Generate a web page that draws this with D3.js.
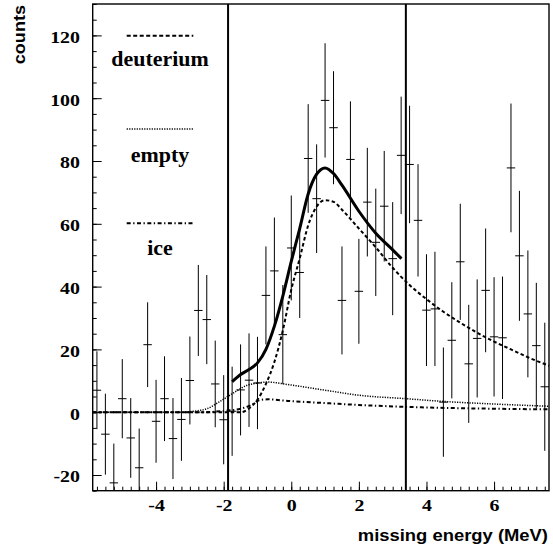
<!DOCTYPE html>
<html>
<head>
<meta charset="UTF-8">
<script src="https://cdn.jsdelivr.net/npm/d3@7"></script>
<style>
  body { margin: 0; background: #fff; }
  svg { display: block; }
</style>
</head>
<body>
<svg width="553" height="546"></svg>
<script>
var energy = [-5.75, -5.5, -5.25, -5.0, -4.75, -4.5, -4.25, -4.0, -3.75, -3.5, -3.25, -3.0, -2.75, -2.5,
  -2.25, -2.0, -1.75, -1.5, -1.25, -1.0, -0.75, -0.5, -0.25, 0.0, 0.25, 0.5, 0.75, 1.0, 1.25, 1.5,
  1.75, 2.0, 2.25, 2.5, 2.75, 3.0, 3.25, 3.5, 3.75, 4.0, 4.25, 4.5, 4.75, 5.0, 5.25, 5.5, 5.75, 6.0,
  6.25, 6.5, 6.75, 7.0, 7.25, 7.5];
var counts = [7, -7, -22.5, 4.3, -8.2, -17.7, 21.5, -2.9, 4.3, -8.4, -2.3, 10.1, 32.4, 29.5,
  9.0, -2.4, 0.3, 7.1, 10.2, 9.3, 37.2, 45, 24.7, 52.3, 44.5, 80.8, 68, 99.3, 90.6, 35.6,
  80.5, 38.5, 66.9, 54.1, 65.6, 48.9, 81.8, 78.9, 61.1, 32.5, 32.9, 3.2, 22.9, 47.9, 15.4, 23.5, 38.8, 24,
  23.7, 77.8, 49.8, 31.3, 21.2, 8.1];
var errors = [12.4, 12.9, 12.5, 12.6, 12.7, 12.5, 13.5, 13.2, 13.5, 12.9, 13.2, 14, 14.5, 14.2,
  13.8, 14.2, 14.2, 14.5, 14.9, 14.7, 15.6, 17, 15.8, 16.7, 14.5, 17.3, 17.3, 18.2, 18, 17.2,
  18.5, 16.7, 17.3, 17.1, 17.6, 18, 18.7, 18.7, 17.9, 17.8, 18.2, 17.4, 18.5, 18.5, 18.8, 18.8, 19.7, 19,
  19.5, 20.5, 20.7, 20.2, 20, 20.4];

// fitted curves
var totalX = [-1.75, -1.5, -1.25, -1.0, -0.75, -0.5, -0.25, 0.0, 0.25, 0.5, 0.75, 1.0, 1.25, 1.5, 2.0, 2.5, 3.0, 3.26];
var totalY = [9.7, 12, 13.6, 15.7, 20, 27.4, 37, 48, 58.5, 69.5, 75.8, 77.8, 76, 72.3, 64, 57, 51.7, 48.9];

var deutX = [-5.875, -1.5, -1.25, -1.0, -0.75, -0.5, -0.25, 0.0, 0.25, 0.5, 0.75, 1.0, 1.25, 1.5, 2.0, 2.5, 3.0, 3.5, 4.0, 4.5, 5.0, 5.5, 6.0, 6.5, 7.0, 7.625];
var deutY = [0, 0, 1.2, 4, 9, 16, 26, 39, 49, 59.5, 65.5, 67.5, 67, 64.5, 58.5, 52.5, 46, 40.5, 36, 32, 28.5, 25.3, 22.5, 20, 17.5, 14.8];

var emptyX = [-5.875, -3.2, -3.0, -2.5, -2.1, -1.7, -1.3, -1.0, -0.7, -0.1, 1.0, 2.0, 3.4, 4.4, 6.0, 7.625];
var emptyY = [0, 0, 0.2, 1.1, 3.5, 6.2, 8.6, 9.3, 9.6, 8.8, 7.0, 5.4, 4.3, 3.5, 2.6, 1.9];

var iceX = [-5.875, -2.6, -2.0, -1.5, -1.2, -0.95, -0.7, -0.1, 1.0, 2.0, 3.4, 4.4, 6.0, 7.625];
var iceY = [0, 0, 0.4, 1.1, 2.2, 3.8, 4.1, 3.6, 2.9, 2.3, 1.7, 1.4, 1.1, 0.9];

var cutLines = [-1.87, 3.39];
var xMajor = [-4, -2, 0, 2, 4, 6];
var yMajor = [-20, 0, 20, 40, 60, 80, 100, 120];

var plotL = 92.7, plotR = 549, plotT = 4, plotB = 490.7;
var svg = d3.select("svg");

var x = d3.scaleLinear().domain([-5.875, 7.625]).range([plotL, plotR]);
var y = d3.scaleLinear().domain([-25, 130]).range([plotB, plotT]);

var xMinor = d3.range(-5.75, 7.626, 0.25);
var yMinor = d3.range(-25, 130.1, 5);

// minor ticks
svg.append("g")
    .attr("transform", "translate(0," + plotB + ")")
    .call(d3.axisBottom(x).tickValues(xMinor).tickSize(-4).tickFormat(""))
    .call(function (g) { g.select(".domain").remove(); });
svg.append("g")
    .attr("transform", "translate(" + plotL + ",0)")
    .call(d3.axisLeft(y).tickValues(yMinor).tickSize(-4).tickFormat(""))
    .call(function (g) { g.select(".domain").remove(); });

// major ticks + labels
var xAxis = svg.append("g")
    .attr("transform", "translate(0," + plotB + ")")
    .call(d3.axisBottom(x).tickValues(xMajor).tickSize(-9).tickFormat(function (d) { return String(d); }));
xAxis.select(".domain").remove();
xAxis.selectAll(".tick text")
    .attr("y", 20.3).attr("dy", 0)
    .attr("transform", "scale(1.17,1)");

var yAxis = svg.append("g")
    .attr("transform", "translate(" + plotL + ",0)")
    .call(d3.axisLeft(y).tickValues(yMajor).tickSize(-9).tickFormat(function (d) { return String(d); }));
yAxis.select(".domain").remove();
yAxis.selectAll(".tick text")
    .attr("x", -12.7 / 1.17).attr("y", 6.8).attr("dy", 0)
    .attr("transform", "scale(1.17,1)");

svg.selectAll(".tick text")
    .style("font-family", "'Liberation Serif', 'Times New Roman', serif")
    .style("font-weight", "bold")
    .style("font-size", "17px");
svg.selectAll(".tick line").attr("stroke", "#000").attr("stroke-width", 1);

// frame
svg.append("rect")
    .attr("x", plotL).attr("y", plotT)
    .attr("width", plotR - plotL).attr("height", plotB - plotT)
    .attr("fill", "none").attr("stroke", "#000").attr("stroke-width", 1.4);

// cut lines
svg.selectAll(".cut").data(cutLines).enter().append("line")
    .attr("x1", function (d) { return x(d); }).attr("x2", function (d) { return x(d); })
    .attr("y1", plotT).attr("y2", plotB)
    .attr("stroke", "#000").attr("stroke-width", 2);

// data with error bars
var pts = energy.map(function (e, i) { return { e: e, c: counts[i], s: errors[i] }; });
var bars = svg.append("g").attr("stroke", "#000").attr("stroke-width", 1);
bars.selectAll(".ev").data(pts).enter().append("line")
    .attr("x1", function (d) { return x(d.e); }).attr("x2", function (d) { return x(d.e); })
    .attr("y1", function (d) { return y(Math.min(d.c + d.s, 130)); })
    .attr("y2", function (d) { return y(Math.max(d.c - d.s, -25)); });
bars.selectAll(".eh").data(pts).enter().append("line")
    .attr("x1", function (d) { return x(d.e - 0.125); }).attr("x2", function (d) { return x(d.e + 0.125); })
    .attr("y1", function (d) { return y(d.c); }).attr("y2", function (d) { return y(d.c); });

var line = d3.line()
    .x(function (d) { return x(d[0]); })
    .y(function (d) { return y(d[1]); })
    .curve(d3.curveMonotoneX);

function zipXY(a, b) { return a.map(function (v, i) { return [v, b[i]]; }); }

svg.append("path").attr("d", line(zipXY(iceX, iceY)))
    .attr("fill", "none").attr("stroke", "#000").attr("stroke-width", 2)
    .attr("stroke-dasharray", "4,2.5,1.3,2.5");
svg.append("path").attr("d", line(zipXY(emptyX, emptyY)))
    .attr("fill", "none").attr("stroke", "#000").attr("stroke-width", 1.5)
    .attr("stroke-dasharray", "1.2,1.3");
svg.append("path").attr("d", line(zipXY(deutX, deutY)))
    .attr("fill", "none").attr("stroke", "#000").attr("stroke-width", 2)
    .attr("stroke-dasharray", "3.5,2.5");
svg.append("path").attr("d", line(zipXY(totalX, totalY)))
    .attr("fill", "none").attr("stroke", "#000").attr("stroke-width", 3);

// legend
var legend = [
  { name: "deuterium", dash: "4,2.5", w: 2, ly: 35.7, ty: 65.7 },
  { name: "empty", dash: "1.2,1.3", w: 1.5, ly: 129, ty: 161.7 },
  { name: "ice", dash: "4,2.5,1.3,2.5", w: 2, ly: 223.3, ty: 255 }
];
var lg = svg.append("g");
lg.selectAll("line").data(legend).enter().append("line")
    .attr("x1", 126.7).attr("x2", 193.3)
    .attr("y1", function (d) { return d.ly; }).attr("y2", function (d) { return d.ly; })
    .attr("stroke", "#000")
    .attr("stroke-width", function (d) { return d.w; })
    .attr("stroke-dasharray", function (d) { return d.dash; });
lg.selectAll("text").data(legend).enter().append("text")
    .attr("transform", function (d) { return "translate(160," + d.ty + ") scale(1.07,1)"; })
    .attr("text-anchor", "middle")
    .style("font-family", "'Liberation Serif', serif")
    .style("font-weight", "bold")
    .style("font-size", "20.5px")
    .text(function (d) { return d.name; });

// axis titles
svg.append("text")
    .attr("transform", "translate(548,540.5) scale(1.13,1)")
    .attr("text-anchor", "end")
    .style("font-family", "'Liberation Sans', sans-serif")
    .style("font-weight", "bold")
    .style("font-size", "16.3px")
    .text("missing energy (MeV)");

svg.append("text")
    .attr("transform", "translate(25,5) rotate(-90) scale(1.13,1)")
    .attr("text-anchor", "end")
    .style("font-family", "'Liberation Sans', sans-serif")
    .style("font-weight", "bold")
    .style("font-size", "16px")
    .text("counts");
</script>
</body>
</html>
